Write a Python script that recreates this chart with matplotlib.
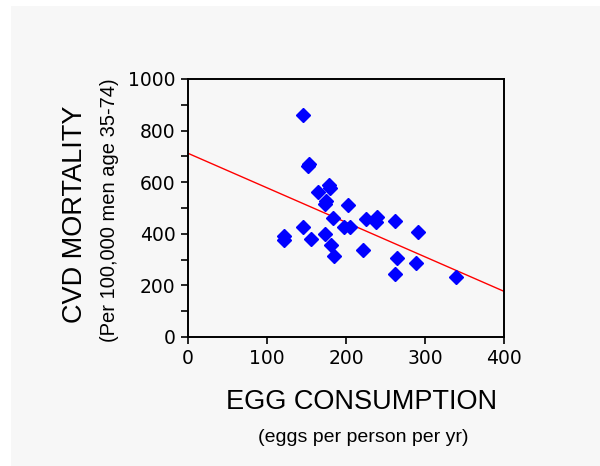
import matplotlib
matplotlib.use("Agg")
import matplotlib.pyplot as plt
from matplotlib.patches import Rectangle

# egg consumption (eggs per person per yr) vs CVD mortality (per 100,000)
eggs = [145, 152, 153, 164, 180, 178, 173, 175, 203, 183, 145, 122, 121,
        156, 174, 181, 185, 197, 205, 221, 225, 239, 238, 262, 291, 264,
        262, 288, 339]
mortality = [861, 663, 670, 563, 576, 590, 514, 528, 512, 460, 427, 376, 390,
             378, 398, 356, 313, 427, 425, 339, 456, 464, 447, 450, 408, 307,
             246, 288, 231]

# fitted trend line end points
fit_x = [0, 400]
fit_y = [712, 177]

xticks = [0, 100, 200, 300, 400]
yticks = [0, 200, 400, 600, 800, 1000]

fig = plt.figure(figsize=(6, 4.66), dpi=100, facecolor="white")
fig.patches.append(Rectangle((11 / 600, 0), 1, 1 - 6 / 466, transform=fig.transFigure,
                             facecolor="#f7f7f7", edgecolor="none", zorder=-10))

ax = fig.add_axes([188 / 600, 1 - 337 / 466, 316 / 600, 258 / 466])
ax.set_facecolor("#f7f7f7")

ax.plot(fit_x, fit_y, color="#ff0000", lw=1.0, zorder=2)
ax.plot(eggs, mortality, "D", color="#0000ff", markersize=7, mec="#0000ff", zorder=3)

ax.set_xlim(0, 400)
ax.set_ylim(0, 1000)
ax.set_xticks(xticks)
ax.set_yticks(yticks)
ax.set_yticks(range(100, 1000, 200), minor=True)
ax.tick_params(axis="both", which="major", direction="out", length=5, width=1.2,
               labelsize=13.5, pad=4)
ax.tick_params(axis="y", which="minor", direction="out", length=5, width=1.2)
for s in ax.spines.values():
    s.set_linewidth(1.4)

fig.text(362 / 600, 1 - 402 / 466, "EGG CONSUMPTION", ha="center", va="center",
         fontsize=19.5, family="Liberation Sans")
fig.text(363 / 600, 1 - 437 / 466, "(eggs per person per yr)", ha="center", va="center",
         fontsize=14, family="Liberation Sans")
fig.text(75 / 600, 1 - 214 / 466, "CVD MORTALITY", ha="center", va="center",
         rotation=90, fontsize=19.5, family="Liberation Sans")
fig.text(110 / 600, 1 - 210 / 466, "(Per 100,000 men age 35-74)", ha="center", va="center",
         rotation=90, fontsize=14.5, family="Liberation Sans")

fig.savefig("out.png", dpi=100, facecolor=fig.get_facecolor())
